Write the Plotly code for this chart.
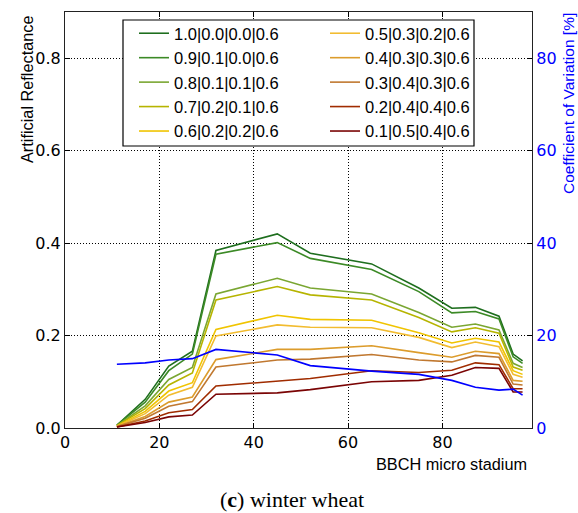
import plotly.graph_objects as go

# BBCH micro stadium (x positions of measurements)
bbch = [11, 17, 22, 27, 32, 45, 52, 65, 75, 82, 87, 92, 95, 97]

labels = [
    "1.0|0.0|0.0|0.6", "0.9|0.1|0.0|0.6", "0.8|0.1|0.1|0.6", "0.7|0.2|0.1|0.6",
    "0.6|0.2|0.2|0.6", "0.5|0.3|0.2|0.6", "0.4|0.3|0.3|0.6", "0.3|0.4|0.3|0.6",
    "0.2|0.4|0.4|0.6", "0.1|0.5|0.4|0.6",
]
colors = ["#1e6e1e", "#3c8a26", "#7aa632", "#b6b400", "#f0c400",
          "#f2bc30", "#dc9c2c", "#c07830", "#a02c00", "#7a0404"]

refl_10 = [0.006, 0.062, 0.134, 0.166, 0.384, 0.420, 0.378, 0.355, 0.303, 0.259, 0.261, 0.242, 0.160, 0.145]
refl_09 = [0.006, 0.056, 0.124, 0.160, 0.376, 0.401, 0.367, 0.343, 0.295, 0.249, 0.252, 0.236, 0.154, 0.140]
refl_08 = [0.005, 0.048, 0.105, 0.131, 0.290, 0.324, 0.303, 0.290, 0.250, 0.218, 0.225, 0.212, 0.140, 0.131]
refl_07 = [0.005, 0.042, 0.093, 0.119, 0.277, 0.306, 0.288, 0.277, 0.239, 0.208, 0.217, 0.205, 0.132, 0.125]
refl_06 = [0.004, 0.036, 0.080, 0.098, 0.213, 0.244, 0.235, 0.233, 0.206, 0.184, 0.194, 0.186, 0.124, 0.116]
refl_05 = [0.004, 0.031, 0.071, 0.088, 0.199, 0.223, 0.218, 0.217, 0.196, 0.174, 0.186, 0.176, 0.116, 0.110]
refl_04 = [0.003, 0.025, 0.056, 0.067, 0.148, 0.170, 0.170, 0.178, 0.163, 0.153, 0.166, 0.161, 0.103, 0.101]
refl_03 = [0.003, 0.021, 0.047, 0.057, 0.132, 0.147, 0.149, 0.159, 0.147, 0.143, 0.157, 0.153, 0.095, 0.093]
refl_02 = [0.002, 0.015, 0.033, 0.040, 0.091, 0.102, 0.107, 0.124, 0.120, 0.125, 0.141, 0.137, 0.085, 0.085]
refl_01 = [0.002, 0.012, 0.024, 0.028, 0.073, 0.076, 0.083, 0.100, 0.103, 0.114, 0.131, 0.129, 0.078, 0.078]
series = [refl_10, refl_09, refl_08, refl_07, refl_06, refl_05, refl_04, refl_03, refl_02, refl_01]

cv = [13.8, 14.1, 14.7, 15.0, 17.0, 15.8, 13.5, 12.3, 11.6, 10.3, 8.8, 8.2, 8.4, 7.1]

x_ticks = [0, 20, 40, 60, 80]
y_ticks = [0.0, 0.2, 0.4, 0.6, 0.8]
y2_ticks = [0, 20, 40, 60, 80]

fig = go.Figure()
for i, (lab, col, vals) in enumerate(zip(labels, colors, series)):
    fig.add_trace(go.Scatter(
        x=bbch, y=vals, mode="lines", name=lab,
        line=dict(color=col, width=1.6),
        legend="legend" if i < 5 else "legend2",
        yaxis="y",
    ))
fig.add_trace(go.Scatter(
    x=bbch, y=cv, mode="lines", name="CV", showlegend=False,
    line=dict(color="#0000ff", width=1.6), yaxis="y2",
))

W, H = 578, 513
L, R, T, B = 65, 46, 12, 85
pw, ph = W - L - R, H - T - B

def px(xp):
    return (xp - L) / pw

def py(yp):
    return 1 - (yp - T) / ph

tickfont = dict(family="DejaVu Sans", size=16, color="black")
labfont = dict(family="Liberation Sans", size=16.3, color="black")

fig.update_layout(
    width=W, height=H,
    margin=dict(l=L, r=R, t=T, b=B, pad=0),
    paper_bgcolor="white", plot_bgcolor="white",
    xaxis=dict(range=[0, 99], tickvals=x_ticks, ticks="inside", ticklen=5,
               tickcolor="black", showline=True, linecolor="#222", linewidth=1.2,
               mirror="ticks", showgrid=True, gridcolor="black", gridwidth=1,
               griddash="1px,2px", zeroline=False, tickfont=tickfont),
    yaxis=dict(range=[0, 0.9], tickvals=y_ticks, tickformat=".1f", ticks="inside",
               ticklen=5, tickcolor="black", showline=True, linecolor="#222",
               linewidth=1.2, mirror=True, showgrid=True, gridcolor="black",
               gridwidth=1, griddash="1px,2px", zeroline=False, tickfont=tickfont),
    yaxis2=dict(range=[0, 90], tickvals=y2_ticks, overlaying="y", side="right",
                ticks="inside", ticklen=5, tickcolor="black", showline=True,
                linecolor="#222", linewidth=1.2, showgrid=False, zeroline=False,
                tickfont=dict(family="DejaVu Sans", size=16, color="#0000ff")),
    legend=dict(x=px(134), y=py(16), xanchor="left", yanchor="top",
                bgcolor="rgba(0,0,0,0)", borderwidth=0,
                font=dict(family="Liberation Sans", size=16.5, color="black")),
    legend2=dict(x=px(325), y=py(16), xanchor="left", yanchor="top",
                 bgcolor="rgba(0,0,0,0)", borderwidth=0,
                 font=dict(family="Liberation Sans", size=16.5, color="black")),
    shapes=[dict(type="rect", xref="paper", yref="paper",
                 x0=px(123), x1=px(474), y0=py(146), y1=py(20),
                 line=dict(color="black", width=1.2), fillcolor="white",
                 layer="above")],
    annotations=[
        dict(text="Artificial Reflectance", xref="paper", yref="paper",
             x=px(27), y=py(89), textangle=-90, showarrow=False,
             xanchor="center", yanchor="middle", font=labfont),
        dict(text="Coefficient of Variation [%]", xref="paper", yref="paper",
             x=px(568), y=py(104), textangle=-90, showarrow=False,
             xanchor="center", yanchor="middle",
             font=dict(family="Liberation Sans", size=15.5, color="#0000ff")),
        dict(text="BBCH micro stadium", xref="paper", yref="paper",
             x=px(529), y=py(464), showarrow=False, xanchor="right",
             yanchor="middle", font=labfont),
        dict(text="(<b>c</b>) winter wheat", xref="paper", yref="paper",
             x=px(292), y=py(499), showarrow=False, xanchor="center",
             yanchor="middle",
             font=dict(family="Liberation Serif", size=22, color="black")),
    ],
)

fig.write_html("out.html")
